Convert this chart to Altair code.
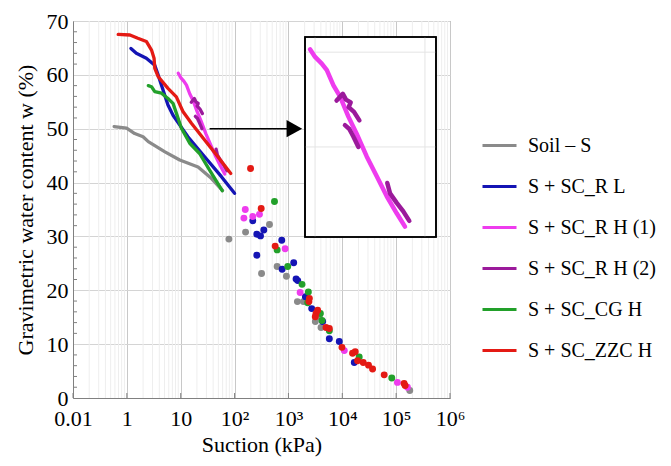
import altair as alt
import pandas as pd

# ---------------- data ----------------
series_names = ['Soil – S', 'S + SC_R L', 'S + SC_R H (1)', 'S + SC_R H (2)', 'S + SC_CG H', 'S + SC_ZZC H']
series_colors = ['#8a8a8a', '#1414b4', '#ee3cee', '#9b1a9b', '#22a02a', '#e41a14']

x_tick_values = [0.1, 1, 10, 100, 1000, 10000, 100000, 1000000]
x_tick_labels = ['0.01', '1', '10', '10²', '10³', '10⁴', '10⁵', '10⁶']
y_tick_values = [0, 10, 20, 30, 40, 50, 60, 70]

# continuous curves (suction kPa, water content %)
soil_curve_s = [0.58, 0.99, 1.4, 2.0, 2.5, 5.1, 9.6, 21, 37, 60]
soil_curve_w = [50.4, 50.1, 49.1, 48.5, 47.6, 45.7, 44.2, 42.9, 40.8, 38.5]

rl_curve_s = [1.19, 1.5, 2.3, 3.3, 3.8, 4.7, 5.8, 7.2, 8.3, 13.6, 27.8, 57, 100]
rl_curve_w = [64.9, 64.0, 63.1, 61.8, 60.0, 57.2, 54.4, 52.5, 51.6, 48.5, 44.8, 41.1, 38.0]

rh1_curve_s = [9.0, 10, 11.5, 12.8, 14.7, 16.9, 20.1, 23.9, 29.5, 36.4, 44.9, 55.3, 65.8]
rh1_curve_w = [60.3, 59.5, 58.8, 58.1, 56.5, 55.3, 53.2, 51.4, 49.0, 46.9, 44.8, 43.0, 41.6]

rh2_curve_s = [15.7, 17.9, 19.1, 21.1, 20.2, 22.6, 25.3, 18.7, 20.5, 22.3, 24.8, 45.4, 48.1, 55.3, 63.5, 72]
rh2_curve_w = [54.9, 55.6, 55.0, 54.7, 54.2, 53.7, 52.8, 52.3, 51.9, 51.1, 50.0, 46.2, 45.1, 44.1, 43.2, 42.2]
rh2_curve_seg = [1, 1, 1, 1, 1, 1, 1, 2, 2, 2, 2, 3, 3, 3, 3, 3]

cg_curve_s = [2.5, 2.87, 3.3, 4.4, 5.8, 7.2, 8.3, 10.3, 14.7, 22.4, 34.4, 59]
cg_curve_w = [58.0, 57.8, 56.9, 56.6, 55.6, 54.7, 52.9, 50.1, 47.3, 45.4, 42.3, 38.5]

zzc_curve_s = [0.69, 1.14, 1.6, 2.3, 2.87, 3.2, 3.3, 3.8, 5.8, 8.3, 11, 15.8, 27.8, 49, 85]
zzc_curve_w = [67.5, 67.4, 66.8, 66.2, 64.6, 63.1, 61.2, 59.7, 57.5, 55.9, 53.2, 51.0, 47.9, 44.8, 41.7]

# measured points
soil_pts_s = [78.5, 160, 445, 317, 617, 918, 1468, 1897, 3160, 3750, 4030, 179000]
soil_pts_w = [29.5, 30.8, 32.2, 23.1, 24.4, 22.6, 17.9, 17.9, 14.2, 15.1, 13.1, 1.4]

rl_pts_s = [218, 349, 259, 303, 752, 259, 1253, 764, 1387, 1490, 2065, 2705, 4320, 5750, 8790, 16700]
rl_pts_w = [32.9, 31.2, 30.4, 30.1, 29.3, 26.5, 25.1, 23.9, 22.1, 21.8, 18.8, 16.6, 14.2, 11.0, 10.5, 6.6]

rh1_pts_s = [158, 149, 218, 290, 869, 1650, 10900, 105700, 162000]
rh1_pts_w = [35.0, 33.4, 33.7, 34.1, 27.7, 19.6, 8.8, 2.9, 2.0]

cg_pts_s = [551, 617, 970, 1790, 2345, 2275, 3920, 4200, 5750, 20600, 83000]
cg_pts_w = [36.5, 27.5, 24.4, 21.1, 19.7, 17.7, 15.7, 14.4, 12.5, 7.6, 3.7]

zzc_pts_s = [198, 312, 567, 2450, 2400, 3490, 3250, 3150, 4990, 5750, 9860, 15500, 17400,
             19200, 24500, 30700, 36500, 60000, 140600, 147000]
zzc_pts_w = [42.6, 35.2, 28.2, 18.5, 17.9, 16.3, 15.7, 15.1, 13.1, 12.9, 9.4, 8.3, 8.6,
             6.9, 6.6, 6.1, 5.4, 4.3, 2.7, 2.3]

# annotation arrow (main axes) and inset window (its own axes)
arrow_s = [34.4, 1100]
arrow_head_s = [1290]
arrow_w = [50]
inset_s_domain = [8.1, 126]
inset_w_domain = [40.5, 61.6]
inset_grid_s = [10, 100]
inset_grid_w = [50, 60]

# ---------------- tables ----------------
def curve(name, s, w, seg=None):
    seg = seg or [1] * len(s)
    return pd.DataFrame({'series': name, 's': s, 'w': w, 'seg': seg, 'idx': range(len(s))})

curves = pd.concat([
    curve(series_names[0], soil_curve_s, soil_curve_w),
    curve(series_names[1], rl_curve_s, rl_curve_w),
    curve(series_names[2], rh1_curve_s, rh1_curve_w),
    curve(series_names[3], rh2_curve_s, rh2_curve_w, rh2_curve_seg),
    curve(series_names[4], cg_curve_s, cg_curve_w),
    curve(series_names[5], zzc_curve_s, zzc_curve_w),
], ignore_index=True)
curves['key'] = curves['series'] + '_' + curves['seg'].astype(str)

def pts(name, s, w):
    return pd.DataFrame({'series': name, 's': s, 'w': w})

points = pd.concat([
    pts(series_names[0], soil_pts_s, soil_pts_w),
    pts(series_names[1], rl_pts_s, rl_pts_w),
    pts(series_names[2], rh1_pts_s, rh1_pts_w),
    pts(series_names[4], cg_pts_s, cg_pts_w),
    pts(series_names[5], zzc_pts_s, zzc_pts_w),
], ignore_index=True)

inset_curves = curves[curves['series'].isin(series_names[2:4])]

minor_s = [m * 10.0 ** k for k in range(-1, 6) for m in range(2, 10)]
minor_w = [v for v in range(2, 70, 2) if v % 10 != 0]

# ---------------- encodings ----------------
W, H = 377, 377
FONT = 'Liberation Serif'

label_expr = ' : '.join(
    [f"datum.value < {v * 3.0} ? '{lab}'" for v, lab in zip(x_tick_values[:-1], x_tick_labels[:-1])]
) + f" : '{x_tick_labels[-1]}'"

x_scale = alt.Scale(type='log', domain=[0.1, 1e6], nice=False)
y_scale = alt.Scale(domain=[0, 70], nice=False, zero=False)
x_axis = alt.Axis(values=x_tick_values, labelExpr=label_expr, grid=True, gridColor='#c8c8c8',
                  ticks=False, domainColor='#808080', labelPadding=10, titlePadding=5,
                  labelFlush=False, labelOverlap=False,
                  labelFont=FONT, titleFont=FONT, labelFontSize=22, titleFontSize=22,
                  titleFontWeight='normal', labelColor='black', titleColor='black')
y_axis = alt.Axis(values=y_tick_values, grid=True, gridColor='#d4d4d4', ticks=False,
                  domainColor='#808080', labelPadding=5, titlePadding=9,
                  labelFont=FONT, titleFont=FONT, labelFontSize=22, titleFontSize=22,
                  titleFontWeight='normal', labelColor='black', titleColor='black')

def X(field='s'):
    return alt.X(f'{field}:Q', scale=x_scale, axis=x_axis, title='Suction (kPa)')

def Y(field='w'):
    return alt.Y(f'{field}:Q', scale=y_scale, axis=y_axis, title='Gravimetric water content w (%)')

legend = alt.Legend(orient='none', legendX=408, legendY=106, title=None, symbolType='stroke',
                    symbolSize=1156, symbolStrokeWidth=3, labelFont=FONT, labelFontSize=20,
                    labelColor='black', rowPadding=12, labelOffset=10, padding=0, labelLimit=300)
color = alt.Color('series:N', scale=alt.Scale(domain=series_names, range=series_colors), legend=legend)

minor_grid = alt.Chart(pd.DataFrame({'s': minor_s})).mark_rule(color='#eeeeee', strokeWidth=1).encode(x=X())

y_minor_ticks = alt.Chart(pd.DataFrame({'w': minor_w})).mark_rule(color='#808080').encode(
    y=Y(), x=alt.value(0), x2=alt.value(4))
x_major_ticks = alt.Chart(pd.DataFrame({'s': x_tick_values})).mark_rule(color='#808080').encode(
    x=X(), y=alt.value(H), y2=alt.value(H - 5))

lines = alt.Chart(curves).mark_line(strokeWidth=3.3, strokeCap='round', strokeJoin='round').encode(
    x=X(), y=Y(), color=color, detail='key:N', order='idx:Q')

dots = alt.Chart(points).mark_circle(size=48, opacity=1).encode(x=X(), y=Y(), color=color)

arrow_line = alt.Chart(pd.DataFrame({'s': [arrow_s[0]], 's2': [arrow_s[1]], 'w': arrow_w})).mark_rule(
    color='black', strokeWidth=1.5).encode(x=X(), x2='s2:Q', y=Y())
arrow_head = alt.Chart(pd.DataFrame({'s': arrow_head_s, 'w': arrow_w})).mark_point(
    shape='M-0.9,-1L0.9,0L-0.9,1Z', filled=True, color='black', opacity=1, size=300).encode(x=X(), y=Y())

main = alt.layer(minor_grid, y_minor_ticks, x_major_ticks, lines, dots, arrow_line, arrow_head)

# inset
xi_scale = alt.Scale(type='log', domain=inset_s_domain, range=[232, 363], nice=False)
yi_scale = alt.Scale(domain=inset_w_domain, range=[216, 16], nice=False, zero=False)

def XI(field='s'):
    return alt.X(f'{field}:Q', scale=xi_scale, axis=None)

def YI(field='w'):
    return alt.Y(f'{field}:Q', scale=yi_scale, axis=None)

inset_box = alt.Chart(pd.DataFrame({'s': [inset_s_domain[0]], 's2': [inset_s_domain[1]],
                                    'w': [inset_w_domain[0]], 'w2': [inset_w_domain[1]]})).mark_rect(
    fill='white', stroke='black', strokeWidth=1.6).encode(x=XI(), x2='s2:Q', y=YI(), y2='w2:Q')
inset_vgrid = alt.Chart(pd.DataFrame({'s': inset_grid_s, 'lo': inset_w_domain[0], 'hi': inset_w_domain[1]})).mark_rule(
    color='#e4e4e4').encode(x=XI(), y=YI('lo'), y2='hi:Q')
inset_hgrid = alt.Chart(pd.DataFrame({'w': inset_grid_w, 'lo': inset_s_domain[0], 'hi': inset_s_domain[1]})).mark_rule(
    color='#e4e4e4').encode(y=YI(), x=XI('lo'), x2='hi:Q')
inset_lines = alt.Chart(inset_curves).mark_line(strokeWidth=4.5, strokeCap='round', strokeJoin='round').encode(
    x=XI(), y=YI(), detail='key:N', order='idx:Q',
    color=alt.Color('series:N', scale=alt.Scale(domain=series_names[2:4], range=series_colors[2:4]), legend=None))
inset_border = inset_box.mark_rect(fill=None, stroke='black', strokeWidth=1.6)

inset = alt.layer(inset_box, inset_vgrid, inset_hgrid, inset_lines, inset_border)

chart = alt.layer(main, inset).resolve_scale(x='independent', y='independent', color='independent').properties(
    width=W, height=H,
    padding={'left': 65, 'top': 13, 'right': 213, 'bottom': 60},
    autosize=alt.AutoSizeParams(type='none'),
).configure(font=FONT).configure_view(stroke='#808080', strokeWidth=1).configure_axis(
    labelFont=FONT, titleFont=FONT, labelFontSize=22, titleFontSize=22, titleFontWeight='normal',
    labelColor='black', titleColor='black')

chart.save('out.html', embed_options={'renderer': 'svg', 'actions': False})
